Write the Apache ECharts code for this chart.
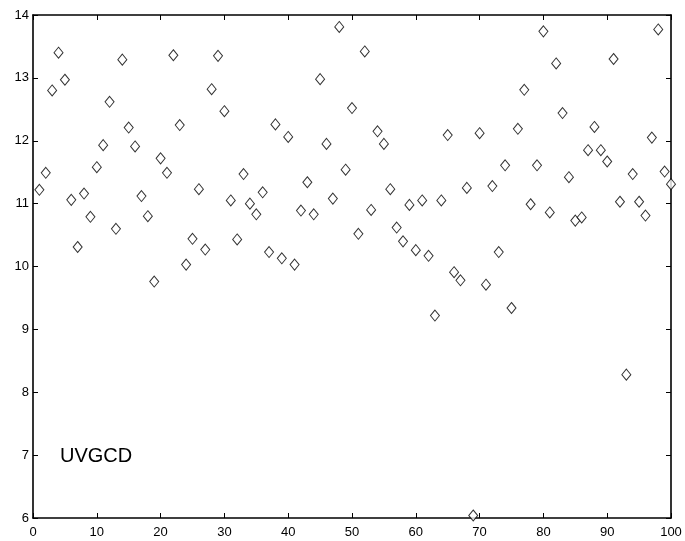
<!DOCTYPE html>
<html>
<head>
<meta charset="utf-8">
<script src="https://cdn.jsdelivr.net/npm/echarts@6/dist/echarts.min.js"></script>
<style>html,body{margin:0;padding:0;background:#fff}#c{width:685px;height:541px}</style>
</head>
<body>
<div id="c"></div>
<script>
var xValues = [];
for (var i = 1; i <= 100; i++) xValues.push(i);
var yValues = [
  11.22, 11.49, 12.80, 13.40, 12.97, 11.06, 10.31, 11.16, 10.79, 11.58,
  11.93, 12.62, 10.60, 13.29, 12.21, 11.91, 11.12, 10.80, 9.76, 11.72,
  11.49, 13.36, 12.25, 10.03, 10.44, 11.23, 10.27, 12.82, 13.35, 12.47,
  11.05, 10.43, 11.47, 11.00, 10.83, 11.18, 10.23, 12.26, 10.13, 12.06,
  10.03, 10.89, 11.34, 10.83, 12.98, 11.95, 11.08, 13.81, 11.54, 12.52,
  10.52, 13.42, 10.90, 12.15, 11.95, 11.23, 10.62, 10.40, 10.98, 10.26,
  11.05, 10.17, 9.22, 11.05, 12.09, 9.91, 9.78, 11.25, 6.04, 12.12,
  9.71, 11.28, 10.23, 11.61, 9.34, 12.19, 12.81, 10.99, 11.61, 13.74,
  10.86, 13.23, 12.44, 11.42, 10.73, 10.78, 11.85, 12.22, 11.85, 11.67,
  13.30, 11.03, 8.28, 11.47, 11.03, 10.81, 12.05, 13.77, 11.51, 11.31
];
var xTicks = [0, 10, 20, 30, 40, 50, 60, 70, 80, 90, 100];
var yTicks = [6, 7, 8, 9, 10, 11, 12, 13, 14];
var annotation = 'UVGCD';

var data = xValues.map(function (x, i) { return [x, yValues[i]]; });
var font = 'Liberation Sans, Arial, sans-serif';
var lineStyle = { color: '#000', width: 1.6 };

var chart = echarts.init(document.getElementById('c'), null, { renderer: 'canvas' });
function axisCommon(showLabel) {
  return {
    axisLine: { show: true, onZero: false, lineStyle: lineStyle },
    axisTick: { show: true, inside: true, length: 5, lineStyle: { color: '#000', width: 1 } },
    axisLabel: { show: showLabel, color: '#000', fontFamily: font, fontSize: 13 },
    splitLine: { show: false }
  };
}
var xb = Object.assign({ type: 'value', position: 'bottom', min: 0, max: 100, interval: 10 }, axisCommon(true));
xb.axisLabel.margin = 8;
var xt = Object.assign({ type: 'value', position: 'top', min: 0, max: 100, interval: 10 }, axisCommon(false));
var yl = Object.assign({ type: 'value', position: 'left', min: 6, max: 14, interval: 1 }, axisCommon(true));
yl.axisLabel.margin = 4;
var yr = Object.assign({ type: 'value', position: 'right', min: 6, max: 14, interval: 1 }, axisCommon(false));

chart.setOption({
  animation: false,
  backgroundColor: '#fff',
  grid: { left: 33, right: 14, top: 15, bottom: 23, containLabel: false },
  xAxis: [xb, xt],
  yAxis: [yl, yr],
  series: [{
    type: 'scatter',
    xAxisIndex: 0,
    yAxisIndex: 0,
    data: data,
    symbol: 'diamond',
    symbolSize: [9, 11],
    itemStyle: { color: '#fff', borderColor: '#000', borderWidth: 1 },
    clip: false
  }],
  graphic: [{
    type: 'text',
    left: 60,
    top: 446,
    style: { text: annotation, fill: '#000', font: '20px Liberation Sans, Arial, sans-serif' }
  }]
});
</script>
</body>
</html>
